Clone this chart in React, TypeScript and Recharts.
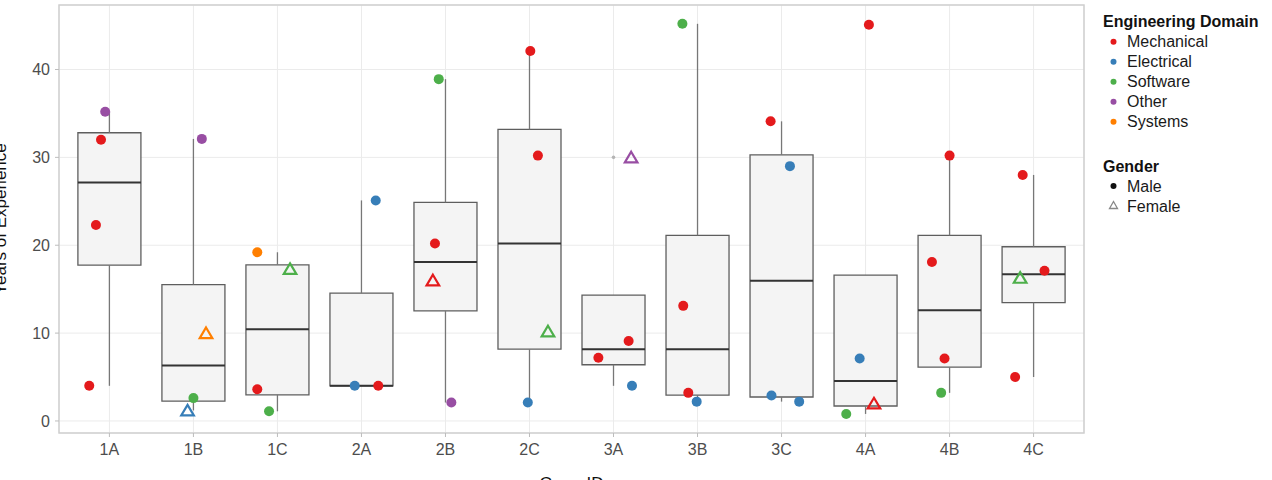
import * as React from 'react';
import {
    ComposedChart,
    Scatter,
    XAxis,
    YAxis,
    CartesianGrid,
    ReferenceArea,
    ReferenceLine
} from 'recharts';

const groups = ['1A', '1B', '1C', '2A', '2B', '2C', '3A', '3B', '3C', '4A', '4B', '4C'];
const domains = ['Mechanical', 'Electrical', 'Software', 'Other', 'Systems'];
const domainColors = ['#e41a1c', '#377eb8', '#4daf4a', '#984ea3', '#ff7f00'];
const genders = ['Male', 'Female'];
const yTicks = [0, 10, 20, 30, 40];

// years of experience, one row per group
const years = [
    [35.2, 32.0, 22.3, 4.0],
    [32.1, 10.0, 2.6, 1.2],
    [19.2, 17.3, 3.6, 1.1],
    [25.1, 4.0, 4.0],
    [38.9, 20.2, 16.0, 2.1],
    [42.1, 30.2, 10.2, 2.1],
    [30.0, 9.1, 7.2, 4.0],
    [45.2, 13.1, 3.2, 2.2],
    [34.1, 29.0, 2.9, 2.2],
    [45.1, 7.1, 2.0, 0.8],
    [30.2, 18.1, 7.1, 3.2],
    [28.0, 16.3, 17.1, 5.0]
];

const domainOf = [
    ['Other', 'Mechanical', 'Mechanical', 'Mechanical'],
    ['Other', 'Systems', 'Software', 'Electrical'],
    ['Systems', 'Software', 'Mechanical', 'Software'],
    ['Electrical', 'Electrical', 'Mechanical'],
    ['Software', 'Mechanical', 'Mechanical', 'Other'],
    ['Mechanical', 'Mechanical', 'Software', 'Electrical'],
    ['Other', 'Mechanical', 'Mechanical', 'Electrical'],
    ['Software', 'Mechanical', 'Mechanical', 'Electrical'],
    ['Mechanical', 'Electrical', 'Electrical', 'Electrical'],
    ['Mechanical', 'Electrical', 'Mechanical', 'Software'],
    ['Mechanical', 'Mechanical', 'Mechanical', 'Software'],
    ['Mechanical', 'Software', 'Mechanical', 'Mechanical']
];

const genderOf = [
    ['Male', 'Male', 'Male', 'Male'],
    ['Male', 'Female', 'Male', 'Female'],
    ['Male', 'Female', 'Male', 'Male'],
    ['Male', 'Male', 'Male'],
    ['Male', 'Male', 'Female', 'Male'],
    ['Male', 'Male', 'Female', 'Male'],
    ['Female', 'Male', 'Male', 'Male'],
    ['Male', 'Male', 'Male', 'Male'],
    ['Male', 'Male', 'Male', 'Male'],
    ['Male', 'Male', 'Female', 'Male'],
    ['Male', 'Male', 'Male', 'Male'],
    ['Male', 'Female', 'Male', 'Male']
];

// horizontal jitter of each point (in category widths)
const jitter = [
    [-0.05, -0.10, -0.16, -0.24],
    [0.10, 0.15, 0.00, -0.07],
    [-0.24, 0.15, -0.24, -0.10],
    [0.17, -0.08, 0.20],
    [-0.08, -0.125, -0.15, 0.07],
    [0.01, 0.10, 0.22, -0.02],
    [0.21, 0.18, -0.18, 0.22],
    [-0.18, -0.17, -0.11, -0.01],
    [-0.13, 0.10, -0.12, 0.21],
    [0.04, -0.07, 0.10, -0.23],
    [0.00, -0.21, -0.06, -0.10],
    [-0.13, -0.16, 0.13, -0.22]
];

const FONT = '"Liberation Sans", Arial, Helvetica, sans-serif';

const quantile = (s: number[], p: number) => {
    const h = (s.length - 1) * p;
    const lo = Math.floor(h);
    const hi = Math.min(lo + 1, s.length - 1);
    return s[lo] + (h - lo) * (s[hi] - s[lo]);
};

// tukey box stats per group
const boxes = years.map((vals, i) => {
    const s = [...vals].sort((a, b) => a - b);
    const q1 = quantile(s, 0.25);
    const med = quantile(s, 0.5);
    const q3 = quantile(s, 0.75);
    const iqr = q3 - q1;
    const inside = s.filter(v => v >= q1 - 1.5 * iqr && v <= q3 + 1.5 * iqr);
    return {
        i, q1, med, q3,
        lo: inside[0],
        hi: inside[inside.length - 1],
        out: s.filter(v => v < q1 - 1.5 * iqr || v > q3 + 1.5 * iqr)
    };
});

const points = years.flatMap((vals, g) => vals.map((v, k) => ({
    x: g + jitter[g][k],
    y: v,
    domain: domainOf[g][k],
    gender: genderOf[g][k]
})));

const outliers = boxes.flatMap(b => b.out.map(v => ({ x: b.i, y: v })));

const PointShape = (props: any) => {
    const { cx, cy, payload, color } = props;
    if (payload.gender === 'Female') {
        return (
            <path
                d={`M${cx},${cy - 5.6}L${cx + 6.3},${cy + 5}L${cx - 6.3},${cy + 5}Z`}
                fill='none'
                stroke={color}
                strokeWidth={2.2}
            />
        );
    }
    return <circle cx={cx} cy={cy} r={5} fill={color} />;
};

const OutlierShape = (props: any) => <circle cx={props.cx} cy={props.cy} r={1.8} fill='#b5b5b5' />;

const YTitle = (props: any) => {
    const { viewBox } = props;
    const x = viewBox.x + 6;
    const y = viewBox.y + viewBox.height / 2;
    return (
        <text x={x} y={y} transform={`rotate(-90 ${x} ${y})`} textAnchor='middle' fontSize={17} fill='#111'>
            Years of Experience
        </text>
    );
};

const XTitle = (props: any) => {
    const { viewBox } = props;
    return (
        <text x={viewBox.x + viewBox.width / 2} y={viewBox.y + 56} textAnchor='middle' fontSize={17} fill='#111'>
            GroupID
        </text>
    );
};

const LegendBox = () => (
    <svg width={180} height={230} style={{ position: 'absolute', left: 1092, top: 0 }}>
        <text x={11} y={26.5} fontSize={16} fontWeight='bold' fill='#111'>Engineering Domain</text>
        {domains.map((d, i) => (
            <g key={d}>
                <circle cx={21.5} cy={41.7 + 20 * i} r={3} fill={domainColors[i]} />
                <text x={35} y={47.3 + 20 * i} fontSize={16} fill='#1a1a1a'>{d}</text>
            </g>
        ))}
        <text x={11} y={171.5} fontSize={16} fontWeight='bold' fill='#111'>Gender</text>
        {genders.map((g, i) => (
            <g key={g}>
                {g === 'Male'
                    ? <circle cx={21.5} cy={186 + 20 * i} r={3} fill='#111' />
                    : <path d={`M21.5,${201.5}L25.5,${208.5}L17.5,${208.5}Z`} fill='none' stroke='#888' strokeWidth={1.3} />}
                <text x={35} y={191.6 + 20 * i} fontSize={16} fill='#1a1a1a'>{g}</text>
            </g>
        ))}
    </svg>
);

export default function App() {
    return (
        <div style={{ position: 'absolute', left: 0, top: 0, width: 1272, height: 480, fontFamily: FONT, background: '#fff' }}>
            <ComposedChart width={1272} height={480} margin={{ top: 5, right: 188, bottom: 0, left: 0 }}>
                <CartesianGrid stroke='#ebebeb' strokeWidth={1} />
                <XAxis
                    type='number'
                    dataKey='x'
                    domain={[-0.6, 11.6]}
                    ticks={groups.map((_, i) => i)}
                    tickFormatter={(v: number) => groups[v]}
                    allowDataOverflow
                    height={47}
                    axisLine={false}
                    tickLine={{ stroke: '#bdbdbd' }}
                    tickSize={4}
                    tickMargin={7}
                    tick={{ fill: '#4d4d4d', fontSize: 16 }}
                    label={<XTitle />}
                />
                <YAxis
                    type='number'
                    dataKey='y'
                    domain={[-1.37, 47.34]}
                    ticks={yTicks}
                    allowDataOverflow
                    width={59}
                    axisLine={false}
                    tickLine={{ stroke: '#bdbdbd' }}
                    tickSize={4}
                    tickMargin={5}
                    tick={{ fill: '#4d4d4d', fontSize: 16 }}
                    label={<YTitle />}
                />
                <ReferenceArea
                    x1={-0.6} x2={11.6} y1={-1.37} y2={47.34}
                    fill='none' stroke='#cfcfcf' strokeWidth={1.5} ifOverflow='visible'
                />
                {boxes.map(b => (
                    <ReferenceArea
                        key={'box' + b.i}
                        x1={b.i - 0.375} x2={b.i + 0.375} y1={b.q1} y2={b.q3}
                        fill='#f4f4f4' fillOpacity={1} stroke='#5e5e5e' strokeWidth={1.3}
                    />
                ))}
                {boxes.filter(b => b.hi > b.q3).map(b => (
                    <ReferenceLine
                        key={'wu' + b.i}
                        segment={[{ x: b.i, y: b.q3 }, { x: b.i, y: b.hi }]}
                        stroke='#777' strokeWidth={1.3}
                    />
                ))}
                {boxes.filter(b => b.lo < b.q1).map(b => (
                    <ReferenceLine
                        key={'wl' + b.i}
                        segment={[{ x: b.i, y: b.q1 }, { x: b.i, y: b.lo }]}
                        stroke='#777' strokeWidth={1.3}
                    />
                ))}
                {boxes.map(b => (
                    <ReferenceLine
                        key={'med' + b.i}
                        segment={[{ x: b.i - 0.375, y: b.med }, { x: b.i + 0.375, y: b.med }]}
                        stroke='#333' strokeWidth={2}
                    />
                ))}
                <Scatter data={outliers} isAnimationActive={false} shape={<OutlierShape />} />
                {domains.map((d, i) => (
                    <Scatter
                        key={d}
                        name={d}
                        data={points.filter(p => p.domain === d)}
                        isAnimationActive={false}
                        shape={(p: any) => <PointShape {...p} color={domainColors[i]} />}
                    />
                ))}
            </ComposedChart>
            <LegendBox />
        </div>
    );
}
